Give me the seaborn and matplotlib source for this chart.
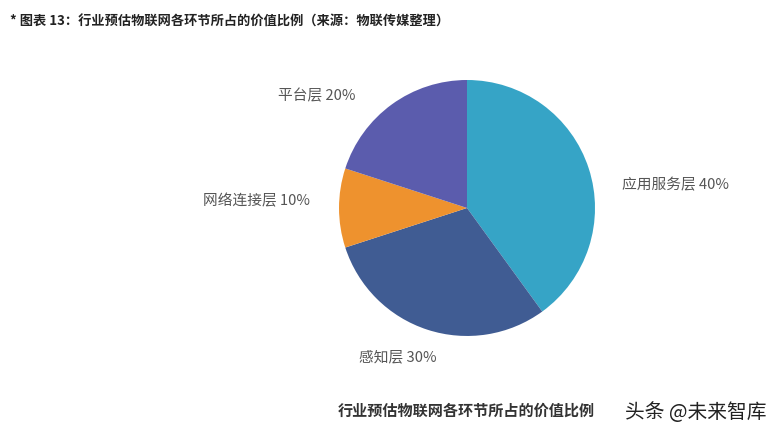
import matplotlib.pyplot as plt
import seaborn as sns

# values, clockwise from 12 o'clock
layers = ["应用服务层", "感知层", "网络连接层", "平台层"]
shares = [40, 30, 10, 20]
colors = ["#36A4C6", "#405C93", "#EE922E", "#5B5CAD"]

TITLE = "* 图表 13：行业预估物联网各环节所占的价值比例（来源：物联传媒整理）"
CAPTION = "行业预估物联网各环节所占的价值比例"
MARK = "头条 @未来智库"

# label anchors in pie-radius units (x, y, ha)
label_pos = [(1.21, 0.18, "left"), (-0.54, -1.17, "center"),
             (-1.23, 0.055, "right"), (-0.875, 0.875, "right")]

sns.set_theme(style="white")
plt.rcParams["font.family"] = ["Noto Sans CJK SC", "DejaVu Sans"]

fig = plt.figure(figsize=(7.79, 4.38), dpi=100)
ax = fig.add_axes([0.4352, 0.2329, 0.3286, 0.5845])

labels = [f"{n} {v}%" for n, v in zip(layers, shares)]
wedges, texts = ax.pie(shares, colors=colors, startangle=90, counterclock=False,
                       labels=labels, wedgeprops={"linewidth": 0},
                       textprops={"fontsize": 10.6, "color": "#555555"})
for t, (x, y, ha) in zip(texts, label_pos):
    t.set_position((x, y))
    t.set_ha(ha)
    t.set_va("center")
ax.set_xlim(-1, 1)
ax.set_ylim(-1, 1)
ax.set_aspect("equal")

fig.text(0.013, 0.95, TITLE, fontsize=9.5, fontweight="bold", color="#222222",
         va="center", ha="left")
fig.text(0.434, 0.062, CAPTION, fontsize=10.9, fontweight="bold", color="#333333",
         va="center", ha="left")
fig.text(0.802, 0.058, MARK, fontsize=14.2, color="#222222", va="center", ha="left")

fig.savefig("out.png", dpi=100)
